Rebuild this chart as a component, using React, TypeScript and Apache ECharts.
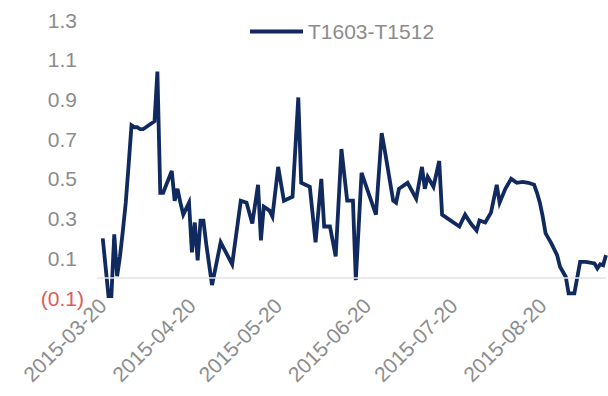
import React, { useEffect, useRef } from "react";
import * as echarts from "echarts";

// Spread between the T1603 and T1512 treasury futures contracts
const seriesName = "T1603-T1512";

const obsDates = [
  "2015-03-20", "2015-03-22", "2015-03-23", "2015-03-24", "2015-03-25", "2015-03-26", "2015-03-27",
  "2015-03-28", "2015-03-29", "2015-03-30", "2015-03-31", "2015-04-01", "2015-04-02", "2015-04-03",
  "2015-04-04", "2015-04-05", "2015-04-06", "2015-04-07", "2015-04-08", "2015-04-09", "2015-04-10",
  "2015-04-13", "2015-04-14", "2015-04-15", "2015-04-16", "2015-04-17", "2015-04-19", "2015-04-20",
  "2015-04-21", "2015-04-22", "2015-04-23", "2015-04-24", "2015-04-25", "2015-04-27", "2015-04-30",
  "2015-05-04", "2015-05-07", "2015-05-09", "2015-05-11", "2015-05-13", "2015-05-14", "2015-05-15",
  "2015-05-17", "2015-05-18", "2015-05-20", "2015-05-22", "2015-05-25", "2015-05-27", "2015-05-28",
  "2015-05-31", "2015-06-02", "2015-06-04", "2015-06-05", "2015-06-07", "2015-06-09", "2015-06-11",
  "2015-06-13", "2015-06-15", "2015-06-16", "2015-06-18", "2015-06-23", "2015-06-25", "2015-06-26",
  "2015-06-29", "2015-06-30", "2015-07-01", "2015-07-04", "2015-07-07", "2015-07-09", "2015-07-10",
  "2015-07-11", "2015-07-13", "2015-07-15", "2015-07-16", "2015-07-18", "2015-07-22", "2015-07-24",
  "2015-07-26", "2015-07-28", "2015-07-29", "2015-07-31", "2015-08-02", "2015-08-04", "2015-08-05",
  "2015-08-07", "2015-08-09", "2015-08-11", "2015-08-13", "2015-08-15", "2015-08-17", "2015-08-18",
  "2015-08-19", "2015-08-20", "2015-08-21", "2015-08-23", "2015-08-25", "2015-08-26", "2015-08-28",
  "2015-08-29", "2015-08-31", "2015-09-02", "2015-09-04", "2015-09-07", "2015-09-08", "2015-09-09",
  "2015-09-10", "2015-09-11",
];

const spreadValues = [
  0.2, -0.09, -0.09, 0.22, 0.01, 0.11, 0.24,
  0.38, 0.57, 0.77, 0.76, 0.76, 0.75, 0.75,
  0.76, 0.77, 0.78, 0.79, 1.04, 0.43, 0.43,
  0.54, 0.39, 0.45, 0.38, 0.32, 0.38, 0.13,
  0.28, 0.09, 0.29, 0.29, 0.17, -0.035, 0.18,
  0.07, 0.39, 0.38, 0.275, 0.47, 0.19, 0.36,
  0.34, 0.31, 0.56, 0.39, 0.41, 0.91, 0.48,
  0.46, 0.18, 0.5, 0.26, 0.26, 0.11, 0.65,
  0.39, 0.39, -0.01, 0.53, 0.32, 0.73, 0.65,
  0.39, 0.38, 0.45, 0.48, 0.4, 0.56, 0.45,
  0.51, 0.46, 0.59, 0.32, 0.3, 0.26, 0.32,
  0.275, 0.24, 0.29, 0.28, 0.33, 0.47, 0.38,
  0.45, 0.5, 0.48, 0.485, 0.48, 0.47, 0.43,
  0.38, 0.31, 0.225, 0.175, 0.116, 0.057, 0.007,
  -0.077, -0.077, 0.082, 0.082, 0.074, 0.049, 0.07,
  0.065, 0.116,
];

// Calendar span of the date axis (a little lead-in before the first observation)
const axisStart = "2015-03-18";
const axisEnd = "2015-09-11";

// Value axis ticks: (0.1), 0.1, 0.3 ... 1.3
const yMin = -0.1;
const yMax = 1.3;
const yStep = 0.2;

const LABEL_GREY = "#8c8c8c";
const NEG_RED = "#e05a5a";
const LINE_NAVY = "#10295f";
const FONT = "'Liberation Sans', Arial, sans-serif";

function calendarDays(start: string, end: string): string[] {
  const out: string[] = [];
  const t0 = Date.parse(start + "T00:00:00Z");
  const t1 = Date.parse(end + "T00:00:00Z");
  for (let t = t0; t <= t1; t += 86400000) {
    out.push(new Date(t).toISOString().slice(0, 10));
  }
  return out;
}

export default function App() {
  const ref = useRef<HTMLDivElement>(null);

  useEffect(() => {
    if (!ref.current) return;
    const chart = echarts.init(ref.current, undefined, { renderer: "svg" });

    const days = calendarDays(axisStart, axisEnd);
    const lookup = new Map<string, number>();
    obsDates.forEach((d, i) => lookup.set(d, spreadValues[i]));
    const seriesData = days.map((d) => (lookup.has(d) ? lookup.get(d)! : null));

    chart.setOption({
      animation: false,
      textStyle: { fontFamily: FONT },
      legend: {
        data: [seriesName],
        left: 250,
        top: 21,
        padding: 0,
        icon: "rect",
        itemWidth: 53,
        itemHeight: 4,
        textStyle: { color: LABEL_GREY, fontSize: 21, fontFamily: FONT },
      },
      grid: { left: 97, right: 2, top: 20, bottom: 98, containLabel: false },
      xAxis: {
        type: "category",
        data: days,
        boundaryGap: false,
        axisLine: { show: false },
        axisTick: { show: false },
        splitLine: { show: false },
        axisLabel: {
          rotate: 45,
          margin: 4,
          color: LABEL_GREY,
          fontSize: 21,
          fontFamily: FONT,
          interval: (_i: number, v: string) => v.endsWith("-20"),
        },
      },
      yAxis: {
        type: "value",
        min: yMin,
        max: yMax,
        interval: yStep,
        axisLine: { show: false },
        axisTick: { show: false },
        splitLine: { show: false },
        axisLabel: {
          margin: 13,
          fontFamily: FONT,
          formatter: (v: number) => {
            const r = Math.round(v * 10) / 10;
            return r < 0
              ? `{neg|(${Math.abs(r).toFixed(1)})}`
              : `{pos|${r.toFixed(1)}}`;
          },
          rich: {
            pos: { color: LABEL_GREY, fontSize: 21, fontFamily: FONT, padding: [0, 7, 0, 0] },
            neg: { color: NEG_RED, fontSize: 21, fontFamily: FONT },
          },
        },
      },
      series: [
        {
          name: seriesName,
          type: "line",
          data: seriesData,
          connectNulls: true,
          showSymbol: false,
          symbol: "none",
          lineStyle: { color: LINE_NAVY, width: 3.8, join: "miter" },
          itemStyle: { color: LINE_NAVY },
          markLine: {
            silent: true,
            symbol: "none",
            label: { show: false },
            lineStyle: { color: "#e3e3e3", width: 1.5, type: "solid" },
            data: [{ yAxis: 0 }],
          },
          z: 3,
        },
      ],
    });

    return () => chart.dispose();
  }, []);

  return (
    <div
      ref={ref}
      style={{ position: "fixed", left: 0, top: 0, width: 608, height: 396, background: "#fff" }}
    />
  );
}
